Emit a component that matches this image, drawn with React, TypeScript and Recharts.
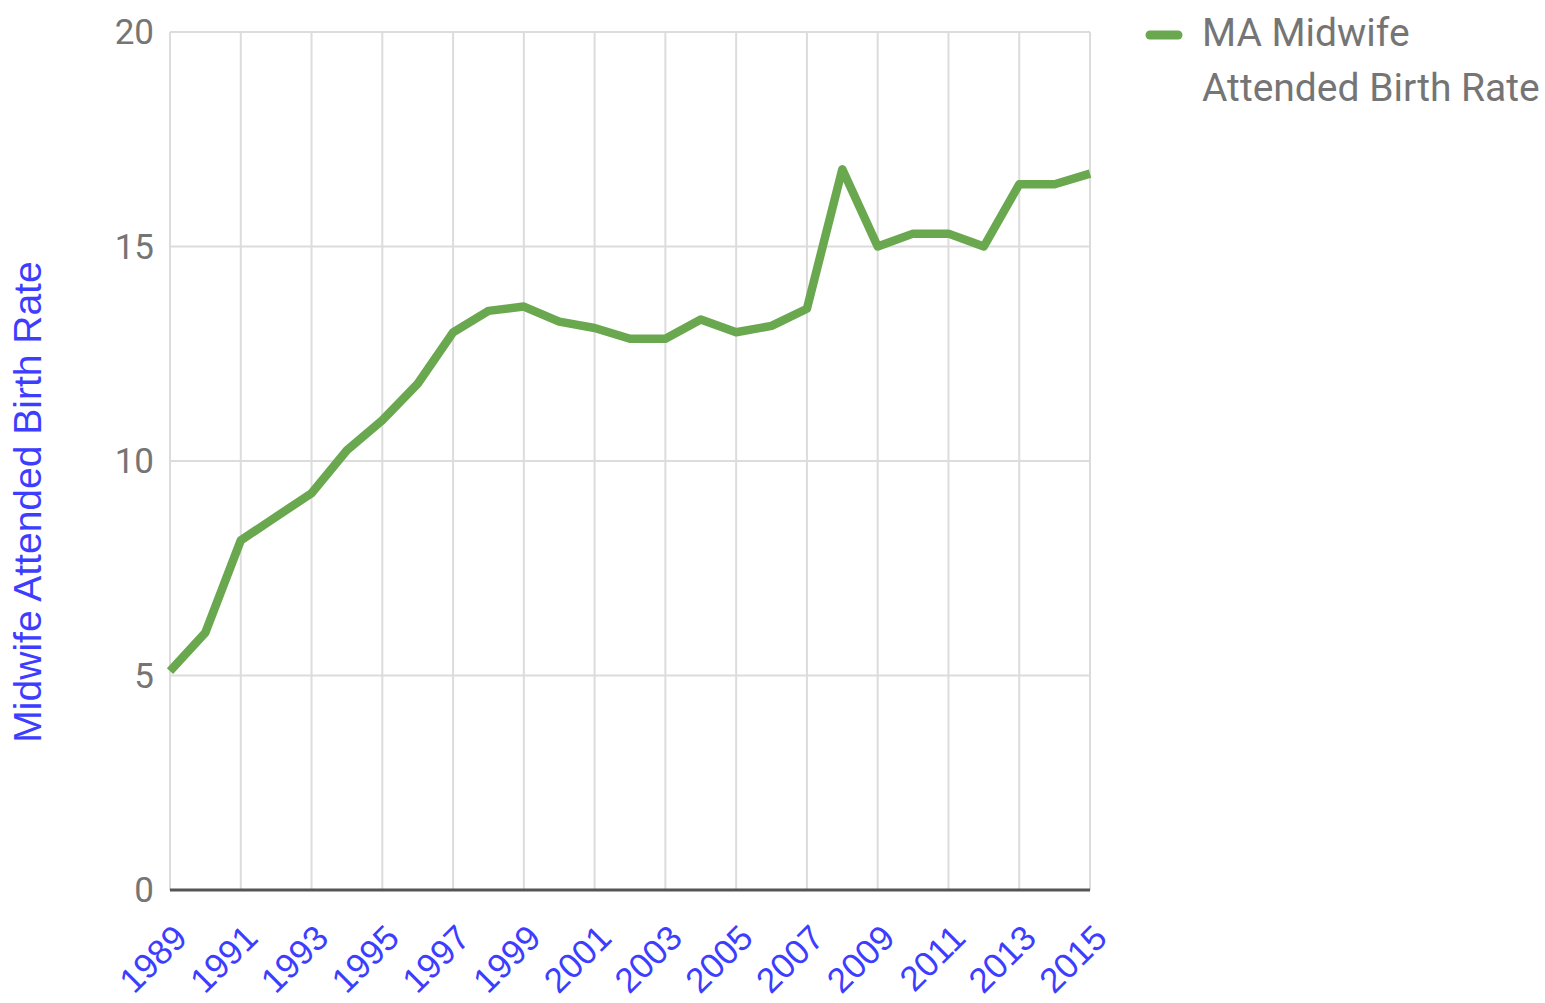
import { LineChart, Line, XAxis, YAxis, CartesianGrid } from "recharts";

// years on the x axis
const years = [
    "1989", "1990", "1991", "1992", "1993", "1994", "1995", "1996", "1997",
    "1998", "1999", "2000", "2001", "2002", "2003", "2004", "2005", "2006",
    "2007", "2008", "2009", "2010", "2011", "2012", "2013", "2014", "2015",
];

// MA midwife attended birth rate, per year
const birthRate = [
    5.1, 6.0, 8.15, 8.7, 9.25, 10.25, 10.95, 11.8, 13.0,
    13.5, 13.6, 13.25, 13.1, 12.85, 12.85, 13.3, 13.0, 13.15,
    13.55, 16.8, 15.0, 15.3, 15.3, 15.0, 16.45, 16.45, 16.7,
];

const yTicks = [0, 5, 10, 15, 20];
const seriesName = "MA Midwife Attended Birth Rate";
const legendLines = ["MA Midwife", "Attended Birth Rate"];
const yTitle = "Midwife Attended Birth Rate";

const chartData = years.map((year, i) => ({ year, rate: birthRate[i] }));

const GREEN = "#6aa84f";
const GREY_TEXT = "#757575";
const BLUE_TEXT = "#3d3dff";

/* 
Slanted year label under the x axis
*/
function YearTick({ x, y, payload }: any) {
    const ax = x + 19;
    const ay = y + 50;
    return (
        <text x={ax} y={ay}
            transform={`rotate(-45 ${ax} ${ay})`}
            textAnchor="end"
            fill={BLUE_TEXT}
            fontSize={35}
            fontFamily="Liberation Sans, Arial, sans-serif">
            {payload.value}
        </text>
    );
}

/* 
Vertical axis title, drawn on the far left
*/
function YTitle({ viewBox }: any) {
    const cx = 41;
    const cy = viewBox.y + viewBox.height / 2 + 41;
    return (
        <text x={cx} y={cy}
            transform={`rotate(-90 ${cx} ${cy})`}
            textAnchor="middle"
            fill={BLUE_TEXT}
            fontSize={39}
            fontFamily="Liberation Sans, Arial, sans-serif">
            {yTitle}
        </text>
    );
}

/* 
Legend on the right of the plot, kept out of the chart layout
*/
function LegendBox() {
    return (
        <div style={{
            position: "absolute", left: 1140, top: 6,
            display: "flex", alignItems: "flex-start",
            fontFamily: "Roboto, sans-serif", color: GREY_TEXT,
        }}>
            <svg width={52} height={40} style={{ marginTop: 10 }}>
                <line x1={10} y1={19} x2={38} y2={19} stroke={GREEN} strokeWidth={9} strokeLinecap="round" />
            </svg>
            <div style={{ fontSize: 39, lineHeight: "55px", marginLeft: 10, width: 380 }}>
                {legendLines[0]}<br />{legendLines[1]}
            </div>
        </div>
    );
}

function App() {
    return (
        <div style={{ position: "absolute", left: 0, top: 0, width: 1545, height: 1003, background: "#fff" }}>
            <LineChart width={1545} height={1003} data={chartData}
                margin={{ top: 32, right: 455, bottom: 0, left: 0 }}>

                <CartesianGrid stroke="#dcdcdc" strokeWidth={2} />

                <XAxis dataKey="year"
                    interval={1}
                    tickLine={false}
                    axisLine={{ stroke: "#555", strokeWidth: 3 }}
                    tickSize={0}
                    tickMargin={0}
                    height={113}
                    tick={<YearTick />} />

                <YAxis domain={[0, 20]}
                    ticks={yTicks}
                    width={170}
                    axisLine={false}
                    tickLine={false}
                    tickSize={0}
                    tickMargin={16}
                    tick={{ fill: GREY_TEXT, fontSize: 35, fontFamily: "Roboto, sans-serif" }}
                    label={{ content: <YTitle /> }} />

                <Line dataKey="rate"
                    name={seriesName}
                    type="linear"
                    stroke={GREEN}
                    strokeWidth={8.5}
                    strokeLinejoin="round"
                    dot={false}
                    activeDot={false}
                    isAnimationActive={false} />
            </LineChart>
            <LegendBox />
        </div>
    );
}

export default App;
